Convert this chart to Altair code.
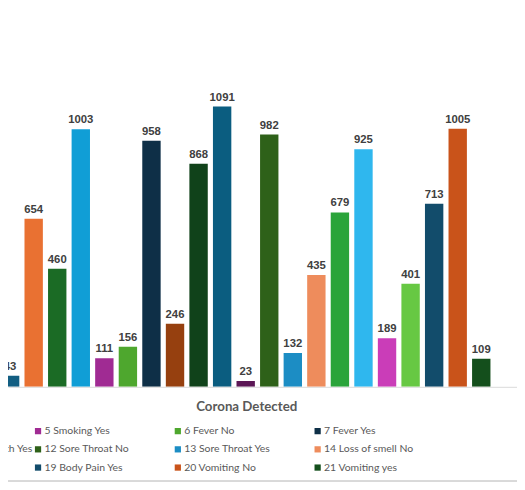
import altair as alt
import pandas as pd

# ---- data ----
series = [
    "1 Age Group Child", "2 Gender Female", "3 Gender Male", "4 Smoking No",
    "5 Smoking Yes", "6 Fever No", "7 Fever Yes",
    "8 Cough No", "9 Cough Yes", "10 Shortness of breadth No",
    "11 Shortness of breadth Yes", "12 Sore Throat No", "13 Sore Throat Yes",
    "14 Loss of smell No",
    "15 Loss of smell Yes", "16 Headache No", "17 Headache Yes",
    "18 Body Pain No", "19 Body Pain Yes", "20 Vomiting No", "21 Vomiting yes",
]
values = [43, 654, 460, 1003, 111, 156, 958, 246, 868, 1091, 23,
          982, 132, 435, 679, 925, 189, 401, 713, 1005, 109]
colors = [
    "#125e82", "#e97132", "#1b6b25", "#109ed6", "#a02b93", "#4ea72e",
    "#0e2f47", "#96400f", "#10421a", "#0b5d80", "#5c1756", "#2e6119",
    "#1c8dc4", "#ee8c5c", "#2aa43a", "#2fb7ee", "#ca3db8", "#67c843",
    "#124c6b", "#c9531a", "#144f1c",
]
axis_title = "Corona Detected"

idx = list(range(1, len(values) + 1))
df = pd.DataFrame({"idx": idx, "name": series, "value": values, "color": colors})

xscale = alt.Scale(domain=[1.119, 22.308], nice=False, zero=False)
yscale = alt.Scale(domain=[0, 1460], nice=False)

base = alt.Chart(df)

bars = base.transform_calculate(
    x0="datum.idx - 0.39", x1="datum.idx + 0.39"
).mark_bar(clip=True, orient="vertical").encode(
    x=alt.X("x0:Q", scale=xscale,
            axis=alt.Axis(title=axis_title, labels=False, ticks=False, grid=False,
                          domainColor="#d9d9d9", domainWidth=1,
                          titleX=242, titleY=20, titleAlign="center",
                          titleBaseline="middle", titleFont="Lato",
                          titleFontSize=13.5, titleFontWeight="bold",
                          titleColor="#595959")),
    x2="x1:Q",
    y=alt.Y("value:Q", scale=yscale, axis=None),
    y2=alt.datum(0),
    color=alt.Color("color:N", scale=None),
)

labels = base.mark_text(
    baseline="alphabetic", dy=-6, font="Liberation Sans", fontSize=11.5,
    fontWeight="bold", color="#404040"
).encode(
    x=alt.X("idx:Q", scale=xscale),
    y=alt.Y("value:Q", scale=yscale),
    text=alt.Text("value:Q"),
)

leg = pd.DataFrame({
    "name": series,
    "color": colors,
    "col": [(i - 1) % 7 + 1 for i in idx],
    "row": [(i - 1) // 7 for i in idx],
})
legbase = alt.Chart(leg).transform_calculate(
    sx="30.5 + (datum.col - 5) * 142",
    tx="30.5 + (datum.col - 5) * 142 + 6.5",
    ly="426 + datum.row * 18.5",
)
leg_sym = legbase.mark_square(size=40, opacity=1).encode(
    x=alt.X("sx:Q", scale=None),
    y=alt.Y("ly:Q", scale=None),
    color=alt.Color("color:N", scale=None),
)
leg_txt = legbase.mark_text(
    align="left", baseline="middle", font="Lato", fontSize=10.6, color="#595959"
).encode(
    x=alt.X("tx:Q", scale=None),
    y=alt.Y("ly:Q", scale=None),
    text="name:N",
)

border = alt.Chart(df).mark_rule(color="#d9d9d9", strokeWidth=1.5).encode(
    x=alt.value(0), x2=alt.value(517), y=alt.value(477)
)

chart = alt.layer(bars, labels, leg_sym, leg_txt, border).properties(
    width=517, height=381,
    autosize=alt.AutoSizeParams(type="none"),
    padding={"left": 0, "top": 0, "right": 0, "bottom": 101},
).configure_view(stroke=None)

chart.save("out.html", embed_options={"renderer": "svg", "actions": False})
